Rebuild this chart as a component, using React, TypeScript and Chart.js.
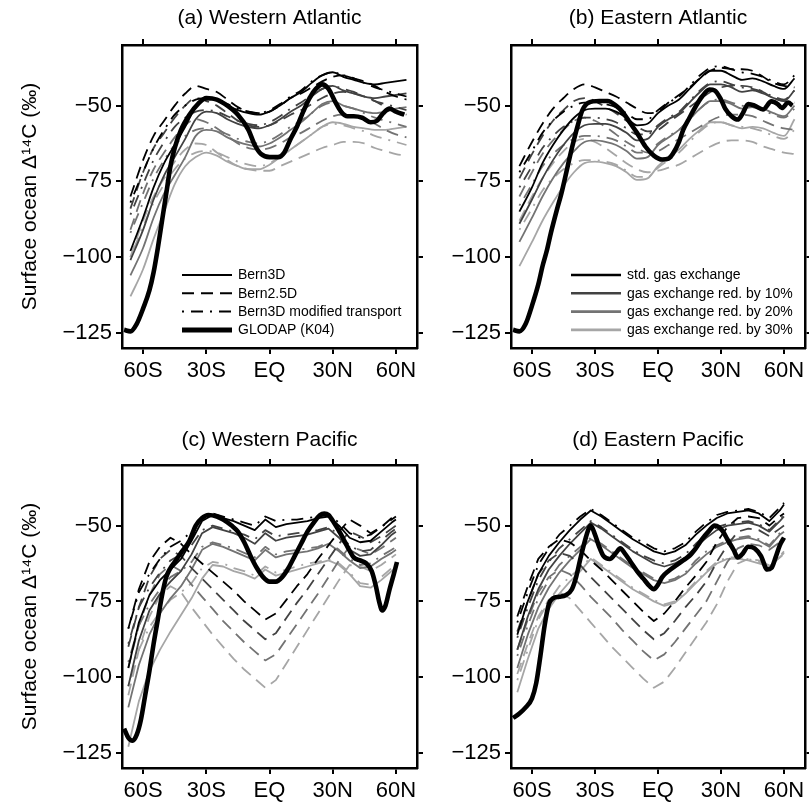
import React, { useEffect, useRef } from 'react';
import { Chart, registerables } from 'chart.js';

Chart.register(...registerables);

const FONT = "'Liberation Sans', Arial, Helvetica, sans-serif";
Chart.defaults.font.family = FONT;
Chart.defaults.color = '#000';

// ---------- latitude grids ----------
const LAT_ATL = [-66, -60, -55, -50, -45, -40, -35, -30, -25, -20, -15, -10, -5, 0, 5, 10, 15, 20, 25, 30, 35, 40, 45, 50, 55, 60, 65];
const LAT_PAC = [-67, -62, -57, -52, -47, -42, -37, -32, -27, -22, -17, -12, -7, -2, 3, 8, 13, 18, 23, 28, 33, 38, 43, 48, 53, 58, 60];

// ---------- (a) Western Atlantic ----------
const A_BERN3D_STD = [-98, -87, -77, -69, -63, -57, -50.5, -48, -48, -50, -51.5, -52.5, -53, -52, -50, -47.5, -45.5, -42.5, -40, -39, -40.5, -41.5, -42.5, -43, -42.5, -42, -41.5];
const A_BERN3D_10 = [-101, -91, -81, -73, -67, -61, -54.5, -52, -52.5, -54.5, -56, -57, -57.5, -56.5, -54.5, -52, -50, -47, -44.5, -43.5, -45, -46, -47, -47.5, -47, -46.5, -46];
const A_BERN3D_20 = [-106, -97, -87, -79, -73, -67, -60, -58, -58.5, -60.5, -62, -63, -63.5, -62.5, -60.5, -58, -55.5, -52.5, -49.5, -48.5, -50, -51, -52, -52.5, -52, -51, -50.5];
const A_BERN3D_30 = [-113, -104, -94, -85, -76, -70, -67, -65.5, -66.5, -68.5, -70, -71, -71, -69.5, -67, -64.5, -62, -59.5, -57, -55.5, -56, -57, -57.5, -58, -58, -57.5, -57];
const A_BERN25_STD = [-80, -68, -60, -55, -50, -46, -43.5, -44.5, -45.5, -48, -50.5, -52, -52.5, -52, -50, -47.5, -46, -44, -42, -40.5, -40, -41, -42, -43.5, -45.5, -47, -48];
const A_BERN25_10 = [-84, -72, -64, -59, -54, -50, -47.5, -48.5, -50, -52.5, -55, -56.5, -57, -56.5, -55, -53, -51.5, -49.5, -47.5, -46, -45.5, -46, -47, -48.5, -50.5, -52, -53];
const A_BERN25_20 = [-91, -79, -71, -65.5, -60.5, -56.5, -54.5, -55.5, -57.5, -60, -62.5, -64, -64.5, -64, -62.5, -60.5, -59, -57, -55, -53.5, -53, -53.5, -54.5, -56, -58, -59.5, -60.5];
const A_BERN25_30 = [-100, -88, -80, -74, -68.5, -64.5, -62.5, -63, -65.5, -68, -70, -71, -71.5, -71.5, -70, -68.5, -67, -65.5, -64, -63, -62, -62, -62.5, -64, -65, -66, -66.5];
const A_MODTR_STD = [-82, -72, -64, -58, -53, -50, -48, -47.5, -48, -49.5, -51, -52, -52.5, -51.5, -49.5, -47, -45, -42, -40, -39, -40, -41, -42.5, -44, -45, -46, -47];
const A_MODTR_10 = [-86, -76, -68, -62, -57, -54, -52, -51.5, -52, -53.5, -55, -56, -56.5, -55.5, -53.5, -51, -49, -46.5, -44.5, -43.5, -44.5, -45.5, -47, -48.5, -49.5, -50.5, -51.5];
const A_MODTR_20 = [-92, -82, -74, -68, -63, -60, -58, -57.5, -58, -59.5, -61, -62, -62.5, -61.5, -59.5, -57, -55, -52.5, -50, -49, -50, -51, -52.5, -54, -55, -56, -57];
const A_MODTR_30 = [-100, -90, -82, -76, -71, -67.5, -65.5, -65, -65.5, -67, -68.5, -69.5, -70, -69, -67, -64.5, -62, -59.5, -57, -56, -56.5, -57.5, -58.5, -60, -61, -62, -63];
const A_GLODAP_LAT = [-69, -66, -63, -60, -57, -55, -53, -51, -49, -47, -45, -42, -38, -34, -30, -25, -20, -15, -10, -7, -4, 0, 4, 7, 10, 13, 16, 19, 22, 25, 28, 31, 34, 37, 40, 44, 48, 51, 54, 57, 60, 64];
const A_GLODAP = [-124, -124.5, -122, -117, -111, -105, -97, -88, -79, -70, -64, -58, -53, -49.5, -47.5, -48, -50, -53, -58, -63, -66, -67, -67, -65.5, -61, -57, -52, -47.5, -44.5, -43, -44.5, -48.5, -52, -53.5, -53.5, -54, -55.5, -55, -52.5, -51, -52, -53];

// ---------- (b) Eastern Atlantic ----------
const B_BERN3D_STD = [-85, -77, -69, -63, -58, -54, -51.5, -51, -51, -52, -54, -56.5, -56, -52.5, -50, -48, -44.5, -41, -38.5, -38.5, -40, -41.5, -41, -42, -43.5, -44.5, -41];
const B_BERN3D_10 = [-89, -81, -74, -68, -63, -59, -56.5, -56, -56, -57, -59, -61.5, -61, -57, -54.5, -52.5, -49, -45.5, -43, -43, -44, -45.5, -45, -46, -47.5, -48.5, -45];
const B_BERN3D_20 = [-95, -87, -80, -74, -69, -65, -62, -61.5, -62, -63, -65, -67.5, -67, -63, -60.5, -58, -54.5, -51, -48.5, -48.5, -49.5, -51, -50.5, -51, -52.5, -53.5, -50];
const B_BERN3D_30 = [-103, -95, -88, -82, -76.5, -72, -69, -68.5, -69, -70, -72, -74.5, -74, -70, -67, -64.5, -61, -58, -55.5, -55.5, -56.5, -57.5, -57, -57.5, -59, -60, -54.5];
const B_BERN25_STD = [-70, -62, -56, -51, -47.5, -44.5, -43, -44, -45.5, -47, -49, -51, -52.5, -52, -49, -46.5, -44, -41, -38.5, -37.5, -38, -38, -38.5, -40.5, -42.5, -43.5, -44];
const B_BERN25_10 = [-74, -66, -60, -55, -51.5, -48.5, -47.5, -48.5, -50.5, -52.5, -55, -57, -58.5, -58, -55.5, -53, -50.5, -48, -45.5, -44, -43.5, -43.5, -44, -45.5, -47.5, -48.5, -49];
const B_BERN25_20 = [-80, -72, -66, -61.5, -58, -55, -54, -55, -57, -59.5, -62, -64, -65.5, -65, -63, -61, -59, -57, -55, -53.5, -53, -53, -53.5, -55, -56.5, -57.5, -58];
const B_BERN25_30 = [-88, -80, -74, -69, -65, -62, -61, -62, -64, -66.5, -69, -71, -72, -71.5, -70.5, -69.5, -67.5, -65.5, -63.5, -62, -61.5, -61.5, -62, -63.5, -64.5, -65.5, -66];
const B_MODTR_STD = [-72, -65, -59, -55, -52, -50, -49, -49, -49.5, -50.5, -52.5, -54.5, -54.5, -51.5, -49, -47, -43.5, -40, -37.5, -37, -38, -39, -39.5, -40.5, -42, -43, -40];
const B_MODTR_10 = [-77, -70, -64, -60, -57, -55, -54, -54, -54.5, -55.5, -57.5, -59.5, -59.5, -56.5, -54, -52, -48.5, -45, -42.5, -42, -43, -44, -44.5, -45.5, -47, -48, -45];
const B_MODTR_20 = [-83, -76, -70, -66, -63, -61, -60, -60, -60.5, -61.5, -63.5, -65.5, -65.5, -62.5, -60, -58, -54.5, -51, -48.5, -48, -49, -50, -50.5, -51.5, -53, -54, -51];
const B_MODTR_30 = [-91, -84, -78, -74, -71, -69, -68, -68, -68.5, -69.5, -71.5, -73.5, -73.5, -70.5, -68, -65.5, -62, -58.5, -56, -55.5, -56.5, -57, -57.5, -58.5, -60, -61, -58];
const B_GLODAP_LAT = [-69, -66, -63, -60, -57, -55, -53, -51, -48, -46, -43, -41, -38, -36, -33, -28, -24, -20, -17, -14, -10, -6, -2, 2, 5, 7, 10, 12, 15, 18, 21, 24.5, 27, 30, 32, 35, 38, 40, 43, 46, 50, 54, 57, 59, 62, 64];
const B_GLODAP = [-124, -124.5, -122, -116, -109, -103, -98, -92, -84, -79, -70, -64, -56, -51.5, -49, -48.5, -48.5, -50, -52, -55, -59, -63.5, -66.5, -67.8, -67.5, -66, -62, -58, -54, -50.2, -47, -44.7, -45, -48, -51, -53.5, -54.6, -53, -49.5, -50, -51.3, -48.6, -49.5, -50.8, -49, -50];

// ---------- (c) Western Pacific ----------
const C_BERN3D_STD = [-97, -82, -73, -68, -64.5, -61, -55, -48.5, -46.5, -47.5, -48.5, -50, -51.5, -48, -50.5, -49.5, -49, -48.5, -47.5, -47, -50, -54, -55.5, -55, -52, -49, -48];
const C_BERN3D_10 = [-103, -88, -78, -72.5, -68.5, -65, -59.5, -52.5, -50.5, -51.5, -52.5, -54, -56, -52.5, -55, -54, -53.5, -53, -52, -51, -54, -58, -60, -59.5, -56.5, -53, -52];
const C_BERN3D_20 = [-110, -96, -86, -79, -74, -70, -64.5, -58, -56, -57, -58.5, -60, -61.5, -58, -60.5, -59.5, -59, -58.5, -57.5, -56, -58.5, -61.5, -64, -63.5, -61, -59, -58];
const C_BERN3D_30 = [-123, -108, -98, -91, -85, -79.5, -74, -67.5, -63, -63.5, -65, -66, -67.5, -64.5, -66.5, -65.5, -64.5, -63.5, -62.5, -61.5, -63, -66, -70, -70.5, -68, -65, -64];
const C_BERN25_STD = [-84, -71, -62, -57, -54, -56, -59.5, -62.5, -65.5, -68.5, -71.5, -75, -78, -81, -79, -74.5, -70, -66, -61, -56.5, -52, -48, -50, -52.5, -50.5, -47.5, -46.5];
const C_BERN25_10 = [-90, -77, -67, -61, -58, -60, -64, -67.5, -71, -74.5, -78, -81.5, -84.5, -87.5, -85.5, -80.5, -75.5, -71, -66, -61, -56, -52, -53.5, -55.5, -53.5, -51, -50];
const C_BERN25_20 = [-97, -83, -73, -66, -63, -65, -69.5, -73.5, -77.5, -81.5, -85, -88.5, -91.5, -94.5, -92.5, -87.5, -82.5, -77.5, -72.5, -67, -61.5, -57, -58, -59.5, -57.5, -55, -54];
const C_BERN25_30 = [-106, -91, -80, -73, -70, -72, -77, -81.5, -86, -90, -94, -97.5, -100.5, -103.5, -101, -95.5, -90, -84.5, -79, -73.5, -68, -63, -63.5, -65, -63, -60.5, -59.5];
const C_MODTR_STD = [-84, -72, -66, -61, -57, -55, -52, -47.5, -46, -47, -48, -49, -50, -47, -48.5, -48, -48, -47.5, -47, -46.5, -49, -52.5, -54, -53, -50.5, -48, -47];
const C_MODTR_10 = [-89, -77, -70.5, -65.5, -61.5, -59.5, -56.5, -51.5, -50, -51, -52, -53, -54.5, -51.5, -53.5, -53, -52.5, -52, -51.5, -50.5, -53, -56.5, -58.5, -58, -55, -52, -51];
const C_MODTR_20 = [-95, -83, -76, -71, -67, -65, -62, -57, -55.5, -56.5, -57.5, -59, -60.5, -57, -59.5, -58.5, -58, -57.5, -57, -55.5, -58, -61, -63, -62.5, -60, -58, -57];
const C_MODTR_30 = [-103, -91, -83.5, -78.5, -74.5, -72, -69, -64, -62, -62.5, -64, -65, -66.5, -63.5, -65.5, -64.5, -63.5, -62.5, -62, -61, -62.5, -65.5, -69, -69.5, -67, -64, -63];
const C_GLODAP_LAT = [-69, -67, -65, -63, -61, -59, -57, -55, -53, -51, -49, -47, -45, -42, -38, -35, -32, -29, -25, -22, -18, -15, -12, -9, -6, -3, 0, 3, 6, 9, 12, 15, 18, 21, 24, 26, 28, 31, 34, 37, 40, 43, 46, 48.5, 50.5, 52, 53.5, 55, 57, 59, 60.5];
const C_GLODAP = [-117, -120, -121, -119, -114, -106, -98, -89, -81, -73, -67, -64, -62, -59, -55, -50, -47.5, -46.5, -47, -48, -50, -52, -55.5, -60, -64, -67, -68.5, -68.5, -67, -64, -60, -56, -52, -49, -46.5, -46, -46.5, -49.5, -53, -57, -60.5, -61.5, -62.5, -65, -70, -75, -78, -76.5, -71, -66, -62];

// ---------- (d) Eastern Pacific ----------
const D_BERN3D_STD = [-86, -75, -66, -60, -55.5, -51.5, -48, -45, -47, -49.5, -52, -54.5, -56.5, -58.5, -59.5, -58.5, -56.5, -53, -50, -47.5, -46, -45.5, -45, -46, -48.5, -45, -43];
const D_BERN3D_10 = [-91, -80, -71, -64.5, -60, -56, -52.5, -49, -51, -53.5, -56, -58.5, -60.5, -62.5, -63.5, -62.5, -60.5, -57, -54, -51.5, -50, -49.5, -49, -50, -52, -48.5, -47];
const D_BERN3D_20 = [-97, -86, -77, -70.5, -65.5, -61.5, -58, -54.5, -56.5, -59, -61.5, -64, -66, -68, -69, -68, -66, -62.5, -59.5, -57, -55.5, -54.5, -54, -55, -57, -53, -52];
const D_BERN3D_30 = [-105, -94, -84, -77.5, -72.5, -68.5, -65, -61, -63.5, -66, -68.5, -71, -73, -75, -76.5, -75.5, -72.5, -69, -65.5, -62.5, -61, -61, -61.5, -62.5, -63.5, -60.5, -59];
const D_BERN25_STD = [-80, -70, -61, -57, -54.5, -55.5, -58, -61.5, -64.5, -68, -71.5, -75, -78.5, -81.5, -79, -75, -70.5, -66.5, -62, -55.5, -50.5, -47.5, -47, -47.5, -50, -47, -46];
const D_BERN25_10 = [-85, -75, -66, -61.5, -59, -60, -63, -67, -70.5, -74, -77.5, -81, -84.5, -87.5, -85.5, -81.5, -77, -73, -68.5, -62, -56.5, -52, -51, -51.5, -53.5, -51, -50];
const D_BERN25_20 = [-91, -81, -72, -67, -64.5, -66, -69.5, -73.5, -77, -80.5, -84.5, -88, -91.5, -94.5, -92.5, -88.5, -84, -79.5, -75, -68.5, -62, -57.5, -56, -56.5, -58, -55.5, -54.5];
const D_BERN25_30 = [-99, -89, -80, -74.5, -72, -74, -78, -82, -86, -90, -93.5, -97, -100.5, -103.5, -101.5, -97, -92, -87, -82, -76, -68.5, -62.5, -61, -61.5, -63, -60.5, -59.5];
const D_MODTR_STD = [-82, -72, -63, -57.5, -53, -50, -47, -44.5, -46.5, -49, -51.5, -54, -55.5, -57.5, -58.5, -57.5, -55.5, -52, -49, -46.5, -45.5, -45, -44.5, -45.5, -47.5, -44, -42.5];
const D_MODTR_10 = [-87, -77, -68, -62, -57.5, -54.5, -51.5, -48.5, -50.5, -53, -55.5, -58, -60, -61.5, -62.5, -61.5, -59.5, -56, -53, -50.5, -49.5, -49, -48.5, -49.5, -51.5, -48, -46.5];
const D_MODTR_20 = [-93, -83, -74, -68, -63, -60, -57, -54, -56, -58.5, -61, -63.5, -65.5, -67.5, -68.5, -67.5, -65.5, -61.5, -58.5, -56.5, -55, -54, -53.5, -54.5, -56.5, -52.5, -51.5];
const D_MODTR_30 = [-101, -91, -81, -75, -70, -67, -64, -60.5, -63, -65.5, -68, -70.5, -72.5, -74.5, -76, -75, -72, -68.5, -65, -62, -60.5, -60.5, -61, -62, -63, -60, -58.5];
const D_GLODAP_LAT = [-69, -66, -63, -60, -58, -56, -54, -52, -50, -47, -44, -41, -39, -37, -35, -33, -32, -30, -28, -26, -23, -20, -18, -16, -13, -10, -7, -4, -2, 0, 2, 5, 9, 12, 15, 18, 21, 24, 27, 29, 31, 33, 36, 38, 40, 43, 46, 49, 52, 54, 56, 58, 60];
const D_GLODAP = [-113.5, -112, -110, -107, -102, -93, -83, -76, -74, -73.5, -73, -71, -67, -61, -55.5, -51, -50, -53, -57, -60, -61, -59, -57.5, -59, -62, -65, -67.5, -70, -71, -69.5, -67, -65, -63, -61.5, -60, -57.5, -54.5, -52, -50, -50.5, -52, -54.5, -58, -60.5, -59.5, -57, -57.5, -60, -64.5, -64, -60.5, -56.5, -54];

// ---------- axes, labels ----------
const X_MIN = -70;
const X_MAX = 70;
const Y_MIN = -130;
const Y_MAX = -30;
const X_TICK_VALUES = [-60, -30, 0, 30, 60];
const X_TICK_LABELS = ['60S', '30S', 'EQ', '30N', '60N'];
const Y_TICK_VALUES = [-125, -100, -75, -50];
const Y_TICK_LABELS = ['\u2212125', '\u2212100', '\u221275', '\u221250'];
const PANEL_TITLES = ['(a) Western Atlantic', '(b) Eastern Atlantic', '(c) Western Pacific', '(d) Eastern Pacific'];
const Y_TITLE = 'Surface ocean \u0394\u00b9\u2074C (\u2030)';
const MODEL_LEGEND = ['Bern3D', 'Bern2.5D', 'Bern3D modified transport', 'GLODAP (K04)'];
const GAS_LEGEND = ['std. gas exchange', 'gas exchange red. by 10%', 'gas exchange red. by 20%', 'gas exchange red. by 30%'];
const SHADE_NAMES = ['std', '10%', '20%', '30%'];

// ---------- styles ----------
const SHADES = ['#000000', '#424242', '#737373', '#a6a6a6'];
const DASH_SOLID: number[] = [];
const DASH_25D = [12, 7];
const DASH_MOD = [2, 7, 12, 7];
const THIN = 1.8;
const THICK = 4.6;

type PanelCfg = {
  id: string;
  title: string;
  lats: number[];
  solid: number[][];
  dashed: number[][];
  modtr: number[][];
  gLat: number[];
  gVal: number[];
  smooth: boolean;
  legend: 'models' | 'gas' | null;
  yTitle: boolean;
  x: number;
  y: number;
  w: number;
  h: number;
  padL: number;
  padR: number;
  padB: number;
  titlePad: number;
  chartTop: number;
};

const PANELS: PanelCfg[] = [
  {
    id: 'a', title: PANEL_TITLES[0], lats: LAT_ATL,
    solid: [A_BERN3D_STD, A_BERN3D_10, A_BERN3D_20, A_BERN3D_30],
    dashed: [A_BERN25_STD, A_BERN25_10, A_BERN25_20, A_BERN25_30],
    modtr: [A_MODTR_STD, A_MODTR_10, A_MODTR_20, A_MODTR_30],
    gLat: A_GLODAP_LAT, gVal: A_GLODAP, smooth: true, legend: 'models', yTitle: true,
    x: 0, y: 0, w: 440, h: 410, padL: 122, padR: 23, padB: 62, titlePad: 6, chartTop: 45,
  },
  {
    id: 'b', title: PANEL_TITLES[1], lats: LAT_ATL,
    solid: [B_BERN3D_STD, B_BERN3D_10, B_BERN3D_20, B_BERN3D_30],
    dashed: [B_BERN25_STD, B_BERN25_10, B_BERN25_20, B_BERN25_30],
    modtr: [B_MODTR_STD, B_MODTR_10, B_MODTR_20, B_MODTR_30],
    gLat: B_GLODAP_LAT, gVal: B_GLODAP, smooth: true, legend: 'gas', yTitle: false,
    x: 440, y: 0, w: 369, h: 410, padL: 71, padR: 4, padB: 62, titlePad: 6, chartTop: 45,
  },
  {
    id: 'c', title: PANEL_TITLES[2], lats: LAT_PAC,
    solid: [C_BERN3D_STD, C_BERN3D_10, C_BERN3D_20, C_BERN3D_30],
    dashed: [C_BERN25_STD, C_BERN25_10, C_BERN25_20, C_BERN25_30],
    modtr: [C_MODTR_STD, C_MODTR_10, C_MODTR_20, C_MODTR_30],
    gLat: C_GLODAP_LAT, gVal: C_GLODAP, smooth: false, legend: null, yTitle: true,
    x: 0, y: 410, w: 440, h: 398, padL: 122, padR: 23, padB: 40, titlePad: 18, chartTop: 55,
  },
  {
    id: 'd', title: PANEL_TITLES[3], lats: LAT_PAC,
    solid: [D_BERN3D_STD, D_BERN3D_10, D_BERN3D_20, D_BERN3D_30],
    dashed: [D_BERN25_STD, D_BERN25_10, D_BERN25_20, D_BERN25_30],
    modtr: [D_MODTR_STD, D_MODTR_10, D_MODTR_20, D_MODTR_30],
    gLat: D_GLODAP_LAT, gVal: D_GLODAP, smooth: false, legend: null, yTitle: false,
    x: 440, y: 410, w: 369, h: 398, padL: 71, padR: 4, padB: 40, titlePad: 18, chartTop: 55,
  },
];

type LegendItem = { text: string; color: string; width: number; dash: number[] };

function legendItems(kind: 'models' | 'gas' | null): LegendItem[] {
  if (kind === 'models') {
    return [
      { text: MODEL_LEGEND[0], color: '#000', width: 2, dash: DASH_SOLID },
      { text: MODEL_LEGEND[1], color: '#000', width: 2, dash: DASH_25D },
      { text: MODEL_LEGEND[2], color: '#000', width: 2, dash: DASH_MOD },
      { text: MODEL_LEGEND[3], color: '#000', width: 5, dash: DASH_SOLID },
    ];
  }
  if (kind === 'gas') {
    return GAS_LEGEND.map((t, i) => ({ text: t, color: SHADES[i], width: 2.6, dash: DASH_SOLID }));
  }
  return [];
}

function makeLegendPlugin(items: LegendItem[]) {
  return {
    id: 'panelLegend',
    afterDatasetsDraw(chart: any) {
      if (!items.length) return;
      const { ctx, chartArea } = chart;
      ctx.save();
      ctx.font = `14px ${FONT}`;
      ctx.textBaseline = 'middle';
      ctx.textAlign = 'left';
      items.forEach((it, i) => {
        const y = chartArea.bottom - 73 + i * 18.3;
        const x0 = chartArea.left + 60;
        const x1 = chartArea.left + 110;
        ctx.beginPath();
        ctx.setLineDash(it.dash);
        ctx.lineWidth = it.width;
        ctx.strokeStyle = it.color;
        ctx.lineCap = 'butt';
        ctx.moveTo(x0, y);
        ctx.lineTo(x1, y);
        ctx.stroke();
        ctx.setLineDash([]);
        ctx.fillStyle = '#000';
        ctx.fillText(it.text, chartArea.left + 116, y + 0.5);
      });
      ctx.restore();
    },
  };
}

const pts = (xs: number[], ys: number[]) => xs.map((x, i) => ({ x, y: ys[i] }));

function buildDatasets(p: PanelCfg) {
  const common = { pointRadius: 0, pointHoverRadius: 0, fill: false, borderJoinStyle: 'round', borderCapStyle: 'butt' };
  const interp = p.smooth ? { cubicInterpolationMode: 'monotone' } : { tension: 0 };
  const ds: any[] = [
    { ...common, label: 'GLODAP (K04)', data: pts(p.gLat, p.gVal), borderColor: '#000', borderWidth: THICK, cubicInterpolationMode: 'monotone' },
  ];
  for (let k = 0; k < 4; k++) {
    ds.push({ ...common, ...interp, label: `Bern3D ${SHADE_NAMES[k]}`, data: pts(p.lats, p.solid[k]), borderColor: SHADES[k], borderWidth: THIN, borderDash: DASH_SOLID });
    ds.push({ ...common, ...interp, label: `Bern2.5D ${SHADE_NAMES[k]}`, data: pts(p.lats, p.dashed[k]), borderColor: SHADES[k], borderWidth: THIN, borderDash: DASH_25D });
    ds.push({ ...common, ...interp, label: `Bern3D modified transport ${SHADE_NAMES[k]}`, data: pts(p.lats, p.modtr[k]), borderColor: SHADES[k], borderWidth: THIN, borderDash: DASH_MOD });
  }
  return ds;
}

function axisCommon() {
  return {
    grid: { drawOnChartArea: false, drawTicks: true, tickLength: 6, color: '#000', tickColor: '#000', lineWidth: 2, tickWidth: 2 },
    border: { display: true, color: '#000', width: 2.5 },
  };
}

function buildConfig(p: PanelCfg): any {
  const titleH = 21 * 1.2 + p.titlePad;
  const topAxisH = p.chartTop - titleH;
  const xTicks = (axis: any) => { axis.ticks = X_TICK_VALUES.map((v) => ({ value: v })); };
  const yTicks = (axis: any) => { axis.ticks = Y_TICK_VALUES.map((v) => ({ value: v })); };
  return {
    type: 'line',
    data: { datasets: buildDatasets(p) },
    plugins: [makeLegendPlugin(legendItems(p.legend))],
    options: {
      responsive: false,
      animation: false,
      devicePixelRatio: 1,
      layout: { padding: 0 },
      events: [],
      plugins: {
        legend: { display: false },
        tooltip: { enabled: false },
        title: {
          display: true, text: p.title, fullSize: false, color: '#000',
          font: { family: FONT, size: 21, weight: 'normal' },
          padding: { top: p.titlePad, bottom: 0 },
        },
      },
      scales: {
        x: {
          type: 'linear', position: 'bottom', min: X_MIN, max: X_MAX,
          afterBuildTicks: xTicks,
          afterFit: (s: any) => { s.height = p.padB; },
          ...axisCommon(),
          ticks: {
            color: '#000', font: { family: FONT, size: 22 }, padding: 4, maxRotation: 0, autoSkip: false,
            callback: (v: number) => X_TICK_LABELS[X_TICK_VALUES.indexOf(v)] ?? '',
          },
        },
        x2: {
          type: 'linear', position: 'top', min: X_MIN, max: X_MAX,
          afterBuildTicks: xTicks,
          afterFit: (s: any) => { s.height = topAxisH; },
          ...axisCommon(),
          ticks: { display: false },
        },
        y: {
          type: 'linear', position: 'left', min: Y_MIN, max: Y_MAX,
          afterBuildTicks: yTicks,
          afterFit: (s: any) => { s.width = p.padL; },
          ...axisCommon(),
          ticks: {
            color: '#000', font: { family: FONT, size: 22 }, padding: 4, autoSkip: false,
            callback: (v: number) => Y_TICK_LABELS[Y_TICK_VALUES.indexOf(v)] ?? '',
          },
          title: {
            display: p.yTitle, text: Y_TITLE, color: '#000',
            font: { family: FONT, size: 21, weight: 'normal' },
            padding: { top: 18, bottom: 0 },
          },
        },
        y2: {
          type: 'linear', position: 'right', min: Y_MIN, max: Y_MAX,
          afterBuildTicks: yTicks,
          afterFit: (s: any) => { s.width = p.padR; },
          ...axisCommon(),
          ticks: { display: false },
        },
      },
    },
  };
}

function Panel({ cfg }: { cfg: PanelCfg }) {
  const ref = useRef<HTMLCanvasElement>(null);
  useEffect(() => {
    if (!ref.current) return;
    const chart = new Chart(ref.current, buildConfig(cfg));
    return () => chart.destroy();
  }, [cfg]);
  return (
    <canvas
      ref={ref}
      width={cfg.w}
      height={cfg.h}
      style={{ position: 'absolute', left: cfg.x, top: cfg.y, width: cfg.w, height: cfg.h }}
    />
  );
}

export default function App() {
  return (
    <div style={{ position: 'absolute', left: 0, top: 0, width: 809, height: 808, background: '#fff', overflow: 'hidden' }}>
      {PANELS.map((p) => (
        <Panel key={p.id} cfg={p} />
      ))}
    </div>
  );
}
